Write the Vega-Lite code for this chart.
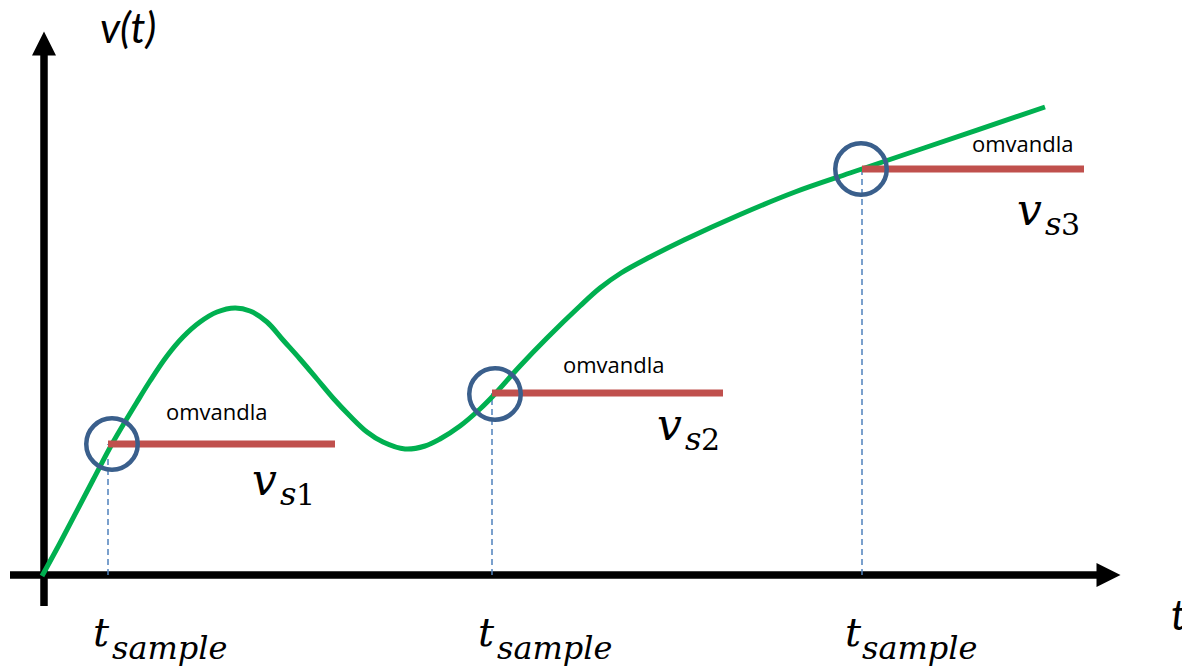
{
  "$schema": "https://vega.github.io/schema/vega-lite/v6.json",
  "width": 1182,
  "height": 667,
  "autosize": {"type": "none"},
  "padding": 0,
  "background": "white",
  "config": {"view": {"stroke": null}},
  "datasets": {
    "axes": [
      {"x": -34, "x2": 1055, "y": 0, "y2": 0},
      {"x": 0, "x2": 0, "y": -31, "y2": 520}
    ],
    "curve": [
      {"t": -2, "v": -1}, {"t": 16, "v": 32}, {"t": 49, "v": 95}, {"t": 68, "v": 131},
      {"t": 93, "v": 173}, {"t": 106, "v": 194}, {"t": 123, "v": 219}, {"t": 139, "v": 238},
      {"t": 156, "v": 253}, {"t": 173, "v": 263}, {"t": 191, "v": 267}, {"t": 206, "v": 264},
      {"t": 223, "v": 253}, {"t": 239, "v": 235}, {"t": 256, "v": 216}, {"t": 273, "v": 196},
      {"t": 289, "v": 177}, {"t": 306, "v": 159}, {"t": 323, "v": 143}, {"t": 339, "v": 133},
      {"t": 361, "v": 126}, {"t": 381, "v": 129}, {"t": 396, "v": 136}, {"t": 416, "v": 149},
      {"t": 436, "v": 166}, {"t": 449, "v": 179}, {"t": 476, "v": 209}, {"t": 503, "v": 237},
      {"t": 536, "v": 269}, {"t": 556, "v": 287}, {"t": 577, "v": 302}, {"t": 606, "v": 318},
      {"t": 640, "v": 335}, {"t": 695, "v": 360}, {"t": 751, "v": 383}, {"t": 806, "v": 402},
      {"t": 880, "v": 427}, {"t": 1001, "v": 468}
    ],
    "samples": [
      {"t": 64, "tc": 68, "te": 291, "v": 131, "vc": 131, "base": 0},
      {"t": 448, "tc": 451, "te": 679, "v": 182, "vc": 181, "base": 0},
      {"t": 818, "tc": 817, "te": 1040, "v": 406, "vc": 406, "base": 0}
    ],
    "omv": [
      {"t": 122, "v": 155, "label": "omvandla"},
      {"t": 519, "v": 202, "label": "omvandla"},
      {"t": 928, "v": 423, "label": "omvandla"}
    ],
    "mainV": [
      {"t": 208, "v": 80, "label": "v"},
      {"t": 613, "v": 135, "label": "v"},
      {"t": 973, "v": 350, "label": "v"}
    ],
    "mainT": [
      {"t": 49, "v": -71, "label": "t"},
      {"t": 434, "v": -71, "label": "t"},
      {"t": 801, "v": -71, "label": "t"}
    ],
    "subItalic": [
      {"t": 236, "v": 70, "label": "s"},
      {"t": 641, "v": 125, "label": "s"},
      {"t": 1001, "v": 340, "label": "s"},
      {"t": 68, "v": -84, "label": "sample"},
      {"t": 453, "v": -84, "label": "sample"},
      {"t": 818, "v": -84, "label": "sample"}
    ],
    "digits": [
      {"t": 252, "v": 70, "label": "1"},
      {"t": 657, "v": 125, "label": "2"},
      {"t": 1017, "v": 340, "label": "3"}
    ],
    "axisLabels": [
      {"t": 56, "v": 532, "label": "v(t)"},
      {"t": 1127, "v": -55, "label": "t"}
    ],
    "arrowUp": [{"t": 0, "v": 531.5}],
    "arrowRight": [{"t": 1064.5, "v": 0}]
  },
  "layer": [
    {
      "data": {"name": "axes"},
      "mark": {"type": "rule", "color": "black", "strokeWidth": 7.5, "strokeCap": "butt"},
      "encoding": {
        "x": {"field": "x", "type": "quantitative", "scale": {"domain": [-44, 1138], "nice": false, "zero": false}, "axis": null},
        "x2": {"field": "x2"},
        "y": {"field": "y", "type": "quantitative", "scale": {"domain": [-92, 575], "nice": false, "zero": false}, "axis": null},
        "y2": {"field": "y2"}
      }
    },
    {
      "data": {"name": "arrowUp"},
      "mark": {"type": "point", "shape": "M0,-1L1,1L-1,1Z", "filled": true, "color": "black", "opacity": 1, "size": 576, "strokeWidth": 0},
      "encoding": {
        "x": {"field": "t", "type": "quantitative"},
        "y": {"field": "v", "type": "quantitative"}
      }
    },
    {
      "data": {"name": "arrowRight"},
      "mark": {"type": "point", "shape": "M-1,-1L1,0L-1,1Z", "filled": true, "color": "black", "opacity": 1, "size": 576, "strokeWidth": 0},
      "encoding": {
        "x": {"field": "t", "type": "quantitative"},
        "y": {"field": "v", "type": "quantitative"}
      }
    },
    {
      "data": {"name": "samples"},
      "mark": {"type": "rule", "color": "#4F81BD", "strokeWidth": 1.5, "strokeDash": [6, 4]},
      "encoding": {
        "x": {"field": "t", "type": "quantitative"},
        "y": {"field": "base", "type": "quantitative"},
        "y2": {"field": "v"}
      }
    },
    {
      "data": {"name": "curve"},
      "mark": {"type": "line", "color": "#00B050", "strokeWidth": 5, "interpolate": "catmull-rom"},
      "encoding": {
        "x": {"field": "t", "type": "quantitative"},
        "y": {"field": "v", "type": "quantitative"}
      }
    },
    {
      "data": {"name": "samples"},
      "mark": {"type": "rule", "color": "#C0504D", "strokeWidth": 7, "strokeCap": "butt"},
      "encoding": {
        "x": {"field": "t", "type": "quantitative"},
        "x2": {"field": "te"},
        "y": {"field": "v", "type": "quantitative"}
      }
    },
    {
      "data": {"name": "samples"},
      "mark": {"type": "point", "shape": "circle", "filled": false, "color": "#3A5F8C", "opacity": 1, "strokeWidth": 4.5, "size": 2650},
      "encoding": {
        "x": {"field": "tc", "type": "quantitative"},
        "y": {"field": "vc", "type": "quantitative"}
      }
    },
    {
      "data": {"name": "omv"},
      "mark": {"type": "text", "font": "Open Sans", "fontSize": 22, "color": "black", "align": "left", "baseline": "alphabetic"},
      "encoding": {
        "x": {"field": "t", "type": "quantitative"},
        "y": {"field": "v", "type": "quantitative"},
        "text": {"field": "label"}
      }
    },
    {
      "data": {"name": "mainV"},
      "mark": {"type": "text", "font": "DejaVu Serif", "fontStyle": "italic", "fontSize": 44, "color": "black", "align": "left", "baseline": "alphabetic"},
      "encoding": {
        "x": {"field": "t", "type": "quantitative"},
        "y": {"field": "v", "type": "quantitative"},
        "text": {"field": "label"}
      }
    },
    {
      "data": {"name": "mainT"},
      "mark": {"type": "text", "font": "DejaVu Serif", "fontStyle": "italic", "fontSize": 40, "color": "black", "align": "left", "baseline": "alphabetic"},
      "encoding": {
        "x": {"field": "t", "type": "quantitative"},
        "y": {"field": "v", "type": "quantitative"},
        "text": {"field": "label"}
      }
    },
    {
      "data": {"name": "subItalic"},
      "mark": {"type": "text", "font": "DejaVu Serif", "fontStyle": "italic", "fontSize": 32, "color": "black", "align": "left", "baseline": "alphabetic"},
      "encoding": {
        "x": {"field": "t", "type": "quantitative"},
        "y": {"field": "v", "type": "quantitative"},
        "text": {"field": "label"}
      }
    },
    {
      "data": {"name": "digits"},
      "mark": {"type": "text", "font": "DejaVu Serif", "fontSize": 30, "color": "black", "align": "left", "baseline": "alphabetic"},
      "encoding": {
        "x": {"field": "t", "type": "quantitative"},
        "y": {"field": "v", "type": "quantitative"},
        "text": {"field": "label"}
      }
    },
    {
      "data": {"name": "axisLabels"},
      "mark": {"type": "text", "font": "Lato", "fontStyle": "italic", "fontSize": 42, "color": "black", "align": "left", "baseline": "alphabetic"},
      "encoding": {
        "x": {"field": "t", "type": "quantitative"},
        "y": {"field": "v", "type": "quantitative"},
        "text": {"field": "label"}
      }
    }
  ]
}
